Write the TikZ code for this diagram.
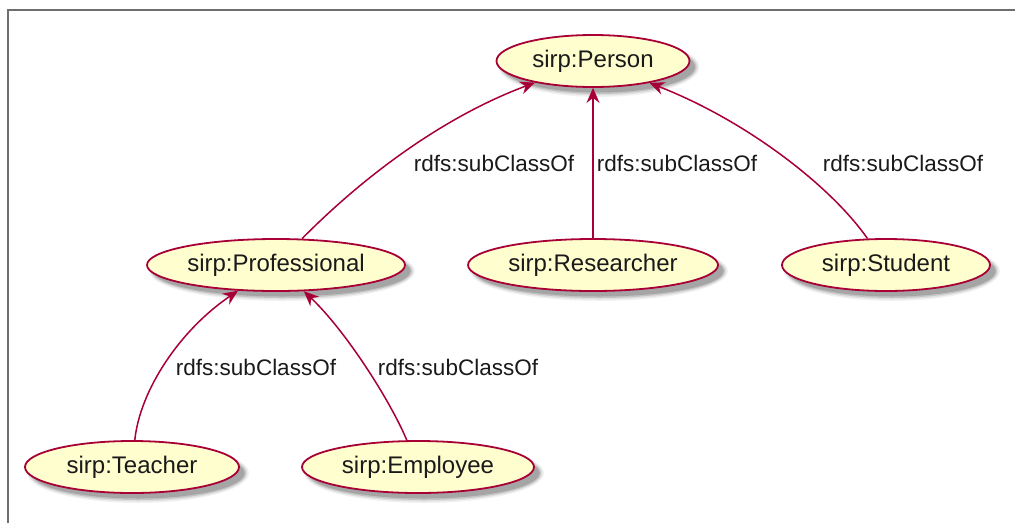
\documentclass[tikz,border=0pt]{standalone}
\usepackage{fontspec}
\setmainfont{Liberation Sans}
\usetikzlibrary{shapes.geometric,arrows.meta}
\definecolor{pbord}{HTML}{A80036}
\definecolor{pfill}{HTML}{FEFECE}
\definecolor{pframe}{HTML}{6E6E6E}
\definecolor{ptext}{HTML}{1A1A1A}
\tikzset{
  ellnode/.style={ellipse, draw=pbord, fill=pfill, line width=1.8pt, inner sep=0pt,
    minimum height=52pt, text=ptext, font=\fontsize{24}{28}\selectfont},
  subedge/.style={draw=pbord, line width=1.5pt,
    -{Stealth[length=15pt,width=13pt,inset=5pt]}},
  edgelabel/.style={text=ptext, font=\fontsize{22.5}{27}\selectfont, inner sep=0pt}
}
\newcommand\shadowell[4]{%
  \foreach \s/\o in {4/0.05,2.5/0.08,1/0.12,-0.5/0.15}{%
    \fill[black,opacity=\o] (#1+6,#2+6) ellipse [x radius={#3/2+\s}, y radius={#4/2+\s}];}%
}
\begin{document}
\begin{tikzpicture}[x=1pt,y=-1pt]
\useasboundingbox (0,0) rectangle (1015,523);
\fill[white] (0,0) rectangle (1015,523);
\draw[pframe, line width=2pt] (7.5,523) -- (7.5,9.5) -- (1015,9.5);

% shadows
\shadowell{593}{61}{193}{52}
\shadowell{276}{265}{258}{52}
\shadowell{593}{265}{250}{52}
\shadowell{886}{265}{208}{52}
\shadowell{132}{467}{214}{52}
\shadowell{418}{467}{232}{52}

% nodes
\node[ellnode, minimum width=193pt] (person) at (593,61) {sirp:Person};
\node[ellnode, minimum width=258pt] (prof) at (276,265) {sirp:Professional};
\node[ellnode, minimum width=250pt] (res) at (593,265) {sirp:Researcher};
\node[ellnode, minimum width=208pt] (stud) at (886,265) {sirp:Student};
\node[ellnode, minimum width=214pt] (teach) at (132,467) {sirp:Teacher};
\node[ellnode, minimum width=232pt] (emp) at (418,467) {sirp:Employee};

% edges
\draw[subedge] (prof) .. controls (360,180) and (440,118) .. (person);
\draw[subedge] (res) -- (person);
\draw[subedge] (stud) .. controls (830,185) and (745,120) .. (person);
\draw[subedge] (teach) .. controls (140,390) and (180,330) .. (prof);
\draw[subedge] (emp) .. controls (390,400) and (345,330) .. (prof);

% labels
\node[edgelabel] (l1) at (494,163) {rdfs:subClassOf};
\node[edgelabel] (l2) at (677,163) {rdfs:subClassOf};
\node[edgelabel] (l3) at (903,163) {rdfs:subClassOf};
\node[edgelabel] (l4) at (256,367) {rdfs:subClassOf};
\node[edgelabel] (l5) at (458,367) {rdfs:subClassOf};
\end{tikzpicture}
\end{document}
